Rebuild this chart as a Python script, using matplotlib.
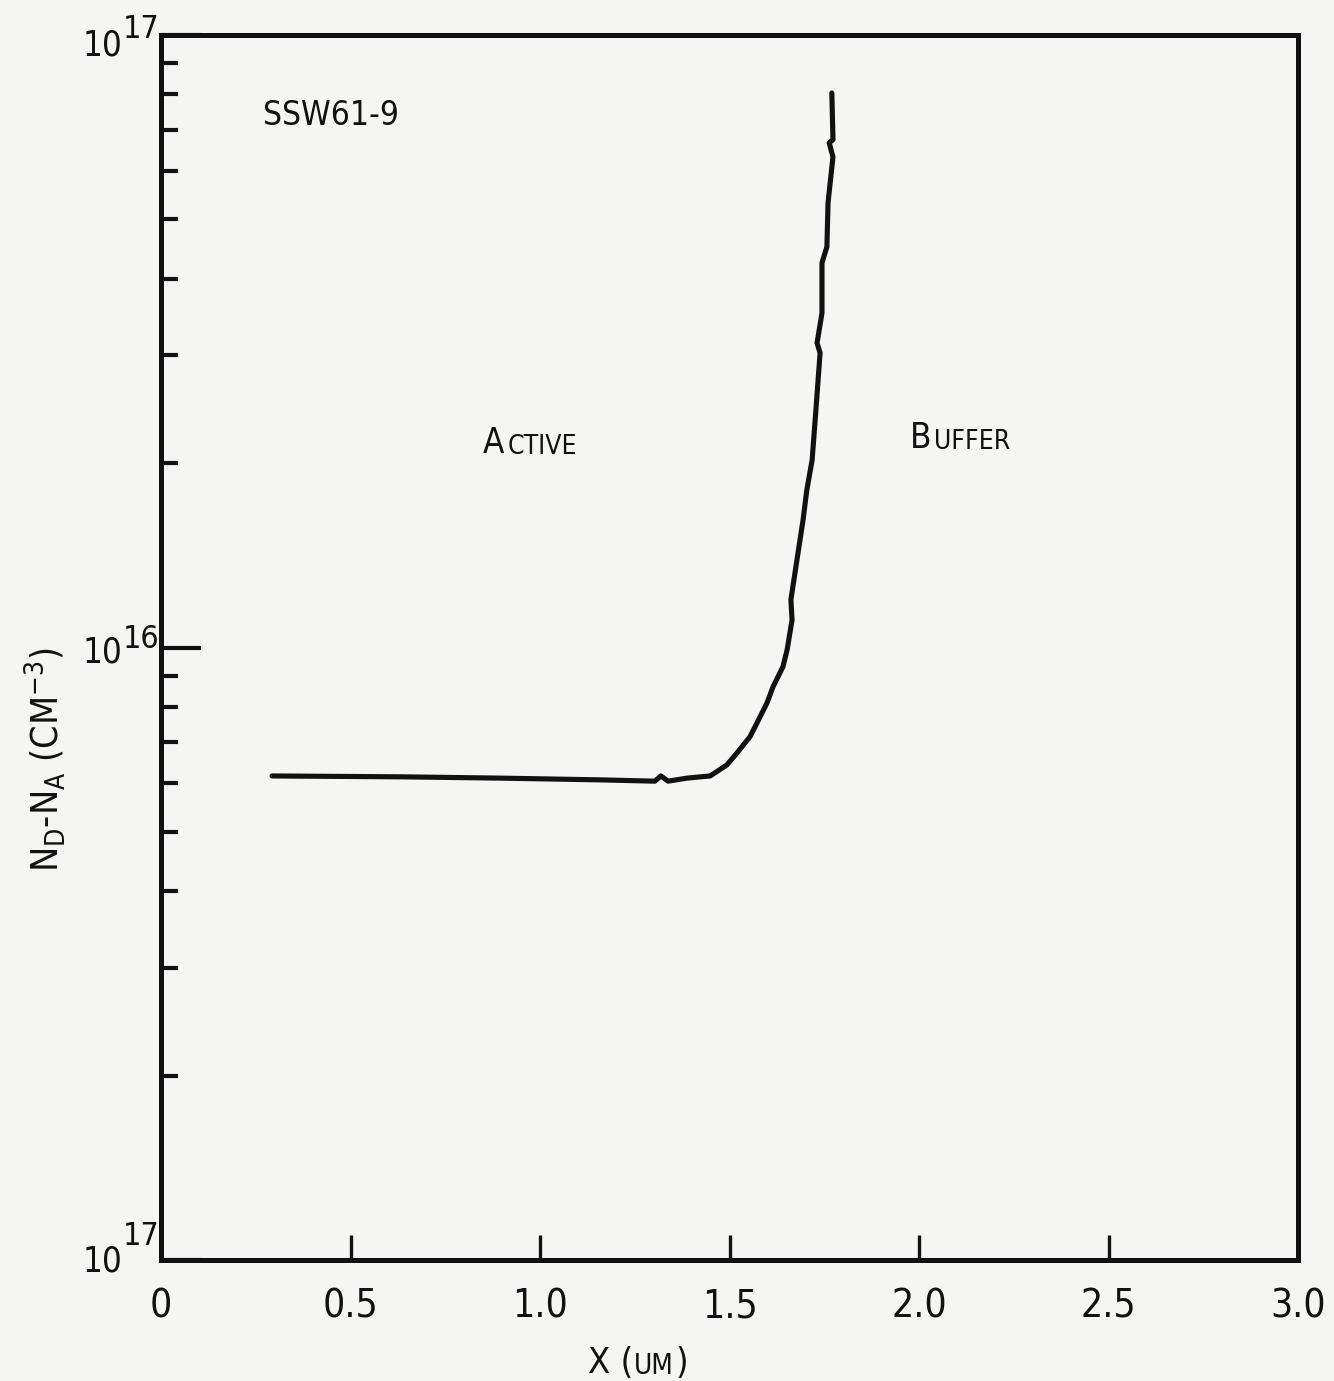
import matplotlib
matplotlib.use("Agg")
import matplotlib.pyplot as plt
import matplotlib.transforms as mtrans
from matplotlib.ticker import LogLocator, NullFormatter, FixedLocator

plt.rcParams['font.family'] = ['DejaVu Sans']
plt.rcParams['font.stretch'] = 'condensed'
plt.rcParams['mathtext.default'] = 'regular'

# Data (depth in um, net doping in cm^-3)
x_um = [0.293, 0.631, 0.894, 1.158, 1.303, 1.319, 1.338, 1.388, 1.449, 1.493,
        1.520, 1.554, 1.573, 1.599, 1.615, 1.641, 1.652, 1.665, 1.662, 1.678,
        1.694, 1.704, 1.718, 1.728, 1.739, 1.731, 1.744, 1.744, 1.757, 1.760,
        1.773, 1.763, 1.773, 1.770]
nd_na = [6.17e15, 6.15e15, 6.12e15, 6.08e15, 6.05e15, 6.17e15, 6.05e15, 6.12e15,
         6.17e15, 6.43e15, 6.73e15, 7.15e15, 7.54e15, 8.12e15, 8.63e15, 9.30e15,
         9.91e15, 1.109e16, 1.197e16, 1.390e16, 1.614e16, 1.807e16, 2.023e16,
         2.443e16, 3.027e16, 3.141e16, 3.516e16, 4.246e16, 4.510e16, 5.321e16,
         6.324e16, 6.668e16, 6.745e16, 8.04e16]

x_ticks = [0, 0.5, 1.0, 1.5, 2.0, 2.5, 3.0]
x_ticklabels = ['0', '0.5', '1.0', '1.5', '2.0', '2.5', '3.0']
y_ticks = [1e15, 1e16, 1e17]
y_tick_exponents = ['17', '16', '17']   # as lettered on the original
y_label_offsets = [(12, -15), (15, 0), (20, 3)]  # (base drop, exponent drop) in px

ink = '#111111'
paper = '#f5f5f3'

W, H = 1334, 1381
fig = plt.figure(figsize=(W / 100, H / 100), dpi=100, facecolor=paper)
ax = fig.add_axes([161 / W, 1 - 1260 / H, (1298 - 161) / W, (1260 - 35) / H])
ax.set_facecolor(paper)

ax.plot(x_um, nd_na, color=ink, lw=3.7, solid_capstyle='round', solid_joinstyle='round')

ax.set_yscale('log')
ax.set_xlim(0, 3.0)
ax.set_ylim(1e15, 1e17)

for s in ax.spines.values():
    s.set_linewidth(3.6)
    s.set_color(ink)

ax.set_xticks(x_ticks)
ax.set_xticklabels(x_ticklabels, fontsize=28)
ax.tick_params(axis='x', direction='in', length=18, width=2.4, color=ink, pad=20, labelcolor=ink)

ax.yaxis.set_major_locator(FixedLocator(y_ticks))
ax.yaxis.set_major_formatter(NullFormatter())
ax.yaxis.set_minor_locator(LogLocator(base=10, subs=[2, 3, 4, 5, 6, 7, 8, 9], numticks=20))
ax.yaxis.set_minor_formatter(NullFormatter())
ax.tick_params(axis='y', which='major', direction='in', length=29, width=3, color=ink)
ax.tick_params(axis='y', which='minor', direction='in', length=12, width=3, color=ink)

# Annotations
ax.text(0.269, 7.4e16, 'SSW61-9', fontsize=24, color=ink, ha='left', va='center')

tA = ax.text(0.850, 2.08e16, 'A', fontsize=25, color=ink, ha='left', va='baseline')
ax.annotate('CTIVE', xy=(1, 0), xycoords=tA, xytext=(2, 0), textcoords='offset points',
            fontsize=19, color=ink, ha='left', va='bottom')
tB = ax.text(1.976, 2.12e16, 'B', fontsize=25, color=ink, ha='left', va='baseline')
ax.annotate('UFFER', xy=(1, 0), xycoords=tB, xytext=(2, 0), textcoords='offset points',
            fontsize=19, color=ink, ha='left', va='bottom')

ident = mtrans.IdentityTransform()
fig.canvas.draw()

# y tick labels: "10" with a large exponent, as hand-lettered
for v, e, (d10, dex) in zip(y_ticks, y_tick_exponents, y_label_offsets):
    px, py = ax.transData.transform((0, v))
    fig.text(px - 39, py - d10, '10', fontsize=25, color=ink, ha='right', va='baseline',
             transform=ident)
    fig.text(px - 38, py - dex, e, fontsize=23, color=ink, ha='left', va='baseline',
             transform=ident)

# x axis label "X (UM)" with small caps
t1 = fig.text(588 / W, 1 - 1373 / H, 'X (', fontsize=26, color=ink, ha='left', va='baseline')
fig.canvas.draw()
bb1 = t1.get_window_extent()
t2 = fig.text(bb1.x1 + 1, bb1.y0, 'UM', fontsize=20, color=ink, ha='left', va='bottom',
              transform=ident)
fig.canvas.draw()
bb2 = t2.get_window_extent()
fig.text(bb2.x1 + 1, bb1.y0, ')', fontsize=26, color=ink, ha='left', va='bottom',
         transform=ident)

fig.text(45 / W, 1 - 760 / H, r'N$_{D}$-N$_{A}$ (CM$^{-3}$)', fontsize=27, color=ink,
         rotation=90, ha='center', va='center')

fig.savefig('out.png', dpi=100, facecolor=paper)
